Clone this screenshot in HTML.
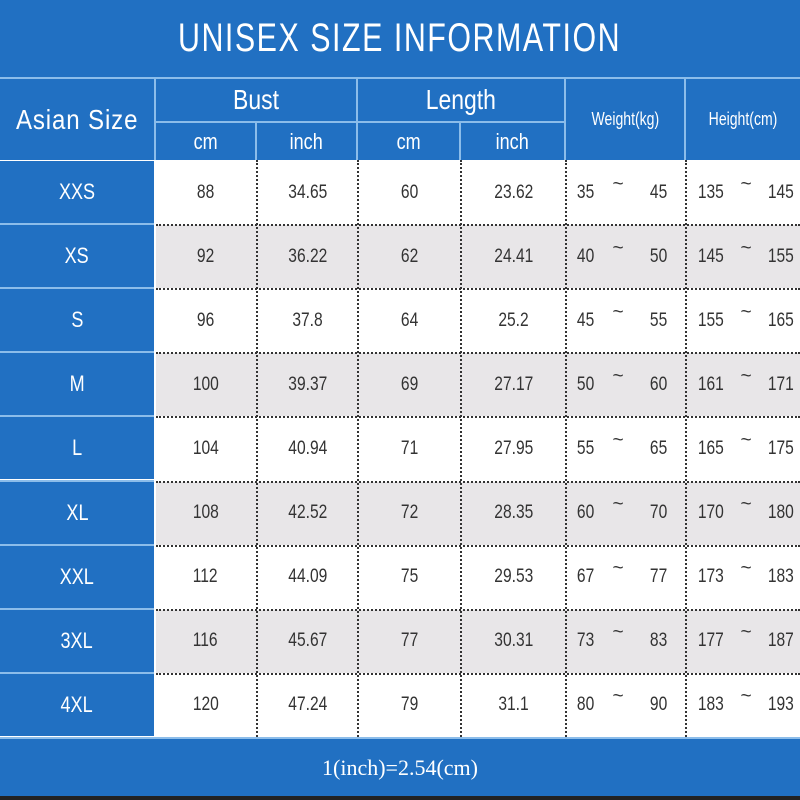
<!DOCTYPE html><html><head><style>
body{margin:0;width:800px;height:800px;overflow:hidden;background:#fff;font-family:"Liberation Sans",sans-serif}
.a{position:absolute;display:flex;align-items:center;justify-content:center;box-sizing:border-box;white-space:nowrap}
.a span{display:inline-block;transform:scaleX(0.82)}
.b{background:#2170c2;color:#fff}
.t{color:#333;font-size:19px}
</style></head><body>
<div class="a b" style="left:0;top:0;width:800px;height:77px;font-size:40px;letter-spacing:2px"><span style="transform:scaleX(0.76)">UNISEX SIZE INFORMATION</span></div>
<div style="position:absolute;left:0;top:77px;width:800px;height:2px;background:#8cbdea"></div>
<div class="a b" style="left:0;top:79px;width:154px;height:81px;font-size:28px;letter-spacing:1px"><span style="transform:scaleX(0.86)">Asian Size</span></div>
<div class="a b" style="left:156px;top:79px;width:200px;height:42px;font-size:28px"><span>Bust</span></div>
<div class="a b" style="left:358px;top:79px;width:206px;height:42px;font-size:28px"><span>Length</span></div>
<div class="a b" style="left:566px;top:79px;width:118px;height:81px;font-size:18px"><span style="transform:scaleX(0.78)">Weight(kg)</span></div>
<div class="a b" style="left:686px;top:79px;width:114px;height:81px;font-size:18px"><span style="transform:scaleX(0.78)">Height(cm)</span></div>
<div class="a b" style="left:156px;top:123px;width:99px;height:37px;font-size:22px"><span>cm</span></div>
<div class="a b" style="left:257px;top:123px;width:99px;height:37px;font-size:22px"><span>inch</span></div>
<div class="a b" style="left:358px;top:123px;width:101px;height:37px;font-size:22px"><span>cm</span></div>
<div class="a b" style="left:461px;top:123px;width:103px;height:37px;font-size:22px"><span>inch</span></div>
<div style="position:absolute;left:154px;top:79px;width:2px;height:81px;background:#8cbdea"></div>
<div style="position:absolute;left:156px;top:121px;width:410px;height:2px;background:#8cbdea"></div>
<div style="position:absolute;left:255px;top:123px;width:2px;height:37px;background:#8cbdea"></div>
<div style="position:absolute;left:356px;top:79px;width:2px;height:81px;background:#8cbdea"></div>
<div style="position:absolute;left:459px;top:123px;width:2px;height:37px;background:#8cbdea"></div>
<div style="position:absolute;left:564px;top:79px;width:2px;height:81px;background:#8cbdea"></div>
<div style="position:absolute;left:684px;top:79px;width:2px;height:81px;background:#8cbdea"></div>
<div id="rows"></div>
<div class="a b" style="left:0;top:739px;width:800px;height:57px;font-size:22px;font-family:'Liberation Serif',serif">1(inch)=2.54(cm)</div>
<div style="position:absolute;left:0;top:737px;width:800px;height:2px;background:#8cbdea"></div>
<div style="position:absolute;left:0;top:796px;width:800px;height:4px;background:#222"></div>
<script>
var d=[["XXS",88,"34.65",60,"23.62",35,45,135,145],["XS",92,"36.22",62,"24.41",40,50,145,155],["S",96,"37.8",64,"25.2",45,55,155,165],["M",100,"39.37",69,"27.17",50,60,161,171],["L",104,"40.94",71,"27.95",55,65,165,175],["XL",108,"42.52",72,"28.35",60,70,170,180],["XXL",112,"44.09",75,"29.53",67,77,173,183],["3XL",116,"45.67",77,"30.31",73,83,177,187],["4XL",120,"47.24",79,"31.1",80,90,183,193]];
var h="";
function s(x){return '<span>'+x+'</span>'}
d.forEach(function(r,i){var y=161+i*64.1,bg=i%2?"#e8e6e8":"#fff";
h+='<div class="a b" style="left:0;top:'+y+'px;width:154px;height:62px;font-size:22px">'+s(r[0])+'</div>';
if(i>0)h+='<div style="position:absolute;left:0;top:'+(y-2)+'px;width:154px;height:2px;background:#8cbdea"></div>';
h+='<div style="position:absolute;left:156px;top:'+y+'px;width:644px;height:63px;background:'+bg+'"></div>';
if(i>0)h+='<div style="position:absolute;left:156px;top:'+(y-1)+'px;width:644px;border-top:2px dotted #333"></div>';
var c=[[156,99,r[1]],[257,101,r[2]],[358,103,r[3]],[461,105,r[4]]];
c.forEach(function(q){h+='<div class="a t" style="left:'+q[0]+'px;top:'+y+'px;width:'+q[1]+'px;height:63px">'+s(q[2])+'</div>'});
h+='<div class="a t" style="left:576px;top:'+y+'px;width:20px;height:63px">'+s(r[5])+'</div><div class="a t" style="left:610px;top:'+(y-8)+'px;width:16px;height:63px">~</div><div class="a t" style="left:648px;top:'+y+'px;width:22px;height:63px">'+s(r[6])+'</div>';
h+='<div class="a t" style="left:696px;top:'+y+'px;width:30px;height:63px">'+s(r[7])+'</div><div class="a t" style="left:738px;top:'+(y-8)+'px;width:16px;height:63px">~</div><div class="a t" style="left:766px;top:'+y+'px;width:30px;height:63px">'+s(r[8])+'</div>';
});
[256,357,460,565,685].forEach(function(x){h+='<div style="position:absolute;left:'+x+'px;top:160px;height:577px;border-left:2px dotted #333"></div>'});
document.getElementById("rows").innerHTML=h;
</script>
</body></html>
